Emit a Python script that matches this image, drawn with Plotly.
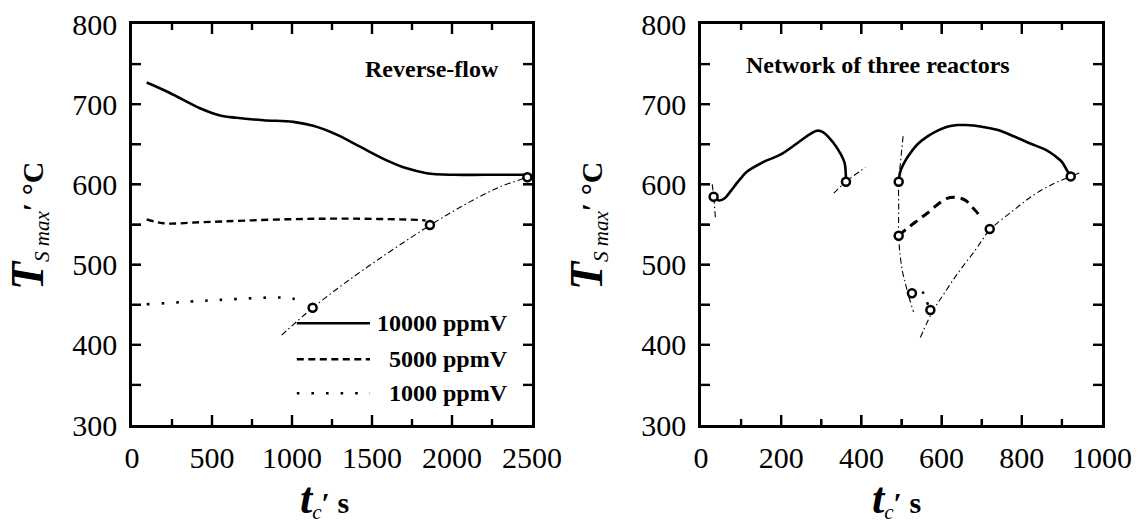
import plotly.graph_objects as go

# ---------------- data: left panel (reverse-flow) ----------------
rf_10000_t = [92, 237, 425, 550, 654, 821, 1008, 1133, 1279, 1425, 1592, 1717, 1842, 2008, 2200, 2490]
rf_10000_T = [727, 714, 695, 686, 683, 680, 678, 673, 662, 647, 630, 620, 614, 612, 612, 612]
rf_5000_t = [92, 196, 446, 967, 1383, 1800, 1835]
rf_5000_T = [556.5, 551.5, 553, 556.5, 557.3, 555.6, 555]
rf_1000_t = [92, 550, 904, 1010, 1080]
rf_1000_T = [450.5, 456, 459, 457.5, 452]
rf_limit_t = [935, 1129, 1400, 1862, 2100, 2300, 2471, 2495]
rf_limit_T = [412, 446, 487, 549, 577, 597, 609, 611]
rf_pts_t = [1129, 1862, 2471]
rf_pts_T = [446.3, 549.4, 609]

# ---------------- data: right panel (network of three reactors) ----------------
nw_10000a_t = [31.5, 45, 60, 73, 95, 115, 156, 198, 239, 270, 289, 305, 330, 347, 358, 361.5]
nw_10000a_T = [584.7, 580, 583, 591, 605, 616, 628, 637, 651, 662, 667, 665, 652, 639, 627, 604]
nw_10000b_t = [493, 497, 510, 522, 540, 564, 590, 614, 640, 660, 700, 738, 780, 821, 860, 884, 900, 912, 922]
nw_10000b_T = [603, 616, 630, 639, 650, 659.5, 667, 672, 674, 674, 672, 668, 660, 651, 643, 635, 628, 618, 610]
nw_5000_t = [493, 514, 540, 564, 590, 614, 630, 645, 660, 672, 685, 700]
nw_5000_T = [536, 545, 555, 564, 575, 582.6, 584, 583, 580, 574, 567, 558]
nw_1000_t = [526, 540, 552, 562, 572]
nw_1000_T = [464, 468, 466, 455, 443]
nw_limA_t = [28, 31.5, 36]
nw_limA_T = [600, 585, 558]
nw_limB_t = [331, 361.5, 410]
nw_limB_T = [589, 603.4, 621]
nw_limC_t = [504, 498, 493, 493, 493, 497, 503, 510, 516, 530]
nw_limC_T = [660, 630, 603, 570, 536, 510, 490, 476, 464, 441]
nw_limD_t = [547, 565, 584, 605, 640, 684, 720, 780, 830, 880, 922, 947]
nw_limD_T = [409, 429, 447, 463, 489, 518, 543, 568, 587, 601, 610, 615]
nw_pts_t = [31.5, 361.5, 493, 493, 526, 572, 720, 922]
nw_pts_T = [584.7, 603.4, 603.4, 536, 464.2, 443.4, 544.4, 610]

legend_labels = ["10000 ppmV", "5000 ppmV", "1000 ppmV"]
left_note = "Reverse-flow"
right_note = "Network of three reactors"

# ---------------- styles ----------------
SERIF = "Liberation Serif"
SOLID = dict(color="black", width=2.6)
DASH_L = dict(color="black", width=2.4, dash="7px,4.5px")
DOT_L = dict(color="black", width=2.6, dash="2.6px,12px")
DASH_R = dict(color="black", width=3, dash="9px,6px")
DOT_R = dict(color="black", width=2.6, dash="2.6px,9px")
DASHDOT = dict(color="black", width=1.1, dash="6px,3px,1.5px,3px")
MARK = dict(symbol="circle", size=8, color="white", line=dict(color="black", width=2.5))

fig = go.Figure()


def line(x, y, style, xa, ya, shape="spline"):
    fig.add_trace(go.Scatter(x=x, y=y, mode="lines", line=dict(**style, shape=shape, smoothing=1.0),
                             xaxis=xa, yaxis=ya, showlegend=False, hoverinfo="skip"))


def pts(x, y, xa, ya):
    fig.add_trace(go.Scatter(x=x, y=y, mode="markers", marker=MARK, xaxis=xa, yaxis=ya,
                             showlegend=False, hoverinfo="skip"))


# left panel
line(rf_limit_t, rf_limit_T, DASHDOT, "x", "y")
line(rf_10000_t, rf_10000_T, SOLID, "x", "y")
line(rf_5000_t, rf_5000_T, DASH_L, "x", "y")
line(rf_1000_t, rf_1000_T, DOT_L, "x", "y")
pts(rf_pts_t, rf_pts_T, "x", "y")

# right panel
for tx, ty in [(nw_limA_t, nw_limA_T), (nw_limB_t, nw_limB_T), (nw_limC_t, nw_limC_T), (nw_limD_t, nw_limD_T)]:
    line(tx, ty, DASHDOT, "x2", "y2")
line(nw_10000a_t, nw_10000a_T, SOLID, "x2", "y2")
line(nw_10000b_t, nw_10000b_T, SOLID, "x2", "y2")
line(nw_5000_t, nw_5000_T, DASH_R, "x2", "y2")
line(nw_1000_t, nw_1000_T, DOT_R, "x2", "y2")
pts(nw_pts_t, nw_pts_T, "x2", "y2")

W, H = 1143, 527
PLOT_W, PLOT_H = 400, 401
TICKFONT = dict(family=SERIF, size=30, color="black")


def xaxis(dom, rng, dt, mdt):
    return dict(domain=dom, range=rng, dtick=dt, tick0=0, showline=True, linewidth=2.6, linecolor="black",
                mirror="allticks", ticks="inside", ticklen=10, tickwidth=2.4, tickcolor="black",
                minor=dict(ticks="inside", dtick=mdt, ticklen=6, tickwidth=2.4, tickcolor="black", showgrid=False),
                showgrid=False, zeroline=False, tickfont=TICKFONT, ticklabelstandoff=4, automargin=False)


def yaxis(rng):
    return dict(domain=[(H - 425) / H, (H - 24) / H], range=rng, dtick=100, tick0=0, showline=True,
                linewidth=2.6, linecolor="black", mirror="allticks", ticks="inside", ticklen=9,
                tickwidth=2.4, tickcolor="black",
                minor=dict(ticks="inside", dtick=50, ticklen=9, tickwidth=2.4, tickcolor="black", showgrid=False),
                showgrid=False, zeroline=False, tickfont=TICKFONT, ticklabelstandoff=6, automargin=False)


ytitle = ("<b><i><span style='font-size:46px'>T</span></i></b><sub><i>S max</i></sub>"
          "<b>′ °C</b>")
xtitle = ("<b><i><span style='font-size:44px'>t</span></i></b><sub><i>c</i></sub>"
          "<b>′ s</b>")

annotations = []
TF = dict(family=SERIF, size=30, color="black")
annotations.append(dict(text=ytitle, x=28 / W, y=(H - 226) / H, xref="paper", yref="paper",
                        textangle=-90, showarrow=False, font=TF, xanchor="center", yanchor="middle"))
annotations.append(dict(text=ytitle, x=587 / W, y=(H - 226) / H, xref="paper", yref="paper",
                        textangle=-90, showarrow=False, font=TF, xanchor="center", yanchor="middle"))
annotations.append(dict(text=xtitle, x=324 / W, y=(H - 499) / H, xref="paper", yref="paper",
                        showarrow=False, font=TF, xanchor="center", yanchor="middle"))
annotations.append(dict(text=xtitle, x=896 / W, y=(H - 499) / H, xref="paper", yref="paper",
                        showarrow=False, font=TF, xanchor="center", yanchor="middle"))

NF = dict(family=SERIF, size=24, color="black")
annotations.append(dict(text="<b>%s</b>" % left_note, x=0.749, y=0.887, xref="x domain", yref="y domain",
                        showarrow=False, font=NF, xanchor="center", yanchor="middle"))
annotations.append(dict(text="<b>%s</b>" % right_note, x=0.441, y=0.897, xref="x2 domain", yref="y2 domain",
                        showarrow=False, font=NF, xanchor="center", yanchor="middle"))

# manual legend inside left panel
leg_y = [0.2536, 0.1638, 0.0790]
leg_styles = [SOLID, DASH_L, DOT_L]
shapes = []
for lab, yy, st in zip(legend_labels, leg_y, leg_styles):
    shapes.append(dict(type="line", xref="x domain", yref="y domain", x0=0.412, x1=0.595, y0=yy, y1=yy,
                       line=dict(color="black", width=st["width"], dash=st.get("dash", "solid"))))
    annotations.append(dict(text="<b>%s</b>" % lab, x=0.945, y=yy, xref="x domain", yref="y domain",
                            showarrow=False, font=NF, xanchor="right", yanchor="middle"))

# inward tick marks on all four sides (reinforce the axis ticks)
TICKLINE = dict(color="black", width=2.4)


def add_x_ticks(xref, yref, xmax, major, minor):
    v = minor
    while v < xmax:
        ln = (10 if abs(v / major - round(v / major)) < 1e-9 else 6) / PLOT_H
        for y0, y1 in [(0, ln), (1, 1 - ln)]:
            shapes.append(dict(type="line", xref=xref, yref=yref, x0=v, x1=v, y0=y0, y1=y1, line=TICKLINE))
        v += minor


def add_y_ticks(xref, yref, ymin, ymax, step):
    v = ymin + step
    while v < ymax:
        ln = 9 / PLOT_W
        for x0, x1 in [(0, ln), (1, 1 - ln)]:
            shapes.append(dict(type="line", xref=xref, yref=yref, x0=x0, x1=x1, y0=v, y1=v, line=TICKLINE))
        v += step


add_x_ticks("x", "y domain", 2500, 500, 250)
add_x_ticks("x2", "y2 domain", 1000, 200, 100)
add_y_ticks("x domain", "y", 300, 800, 50)
add_y_ticks("x2 domain", "y2", 300, 800, 50)

fig.update_layout(
    width=W, height=H, margin=dict(l=0, r=0, t=0, b=0, autoexpand=False),
    paper_bgcolor="white", plot_bgcolor="white",
    xaxis=xaxis([132 / W, 532 / W], [0, 2500], 500, 250),
    yaxis=yaxis([300, 800]),
    xaxis2=xaxis([701 / W, 1102 / W], [0, 1000], 200, 100),
    yaxis2=dict(yaxis([300, 800]), anchor="x2"),
    annotations=annotations, shapes=shapes,
)
fig.layout.xaxis2.anchor = "y2"

fig.write_html("out.html")
